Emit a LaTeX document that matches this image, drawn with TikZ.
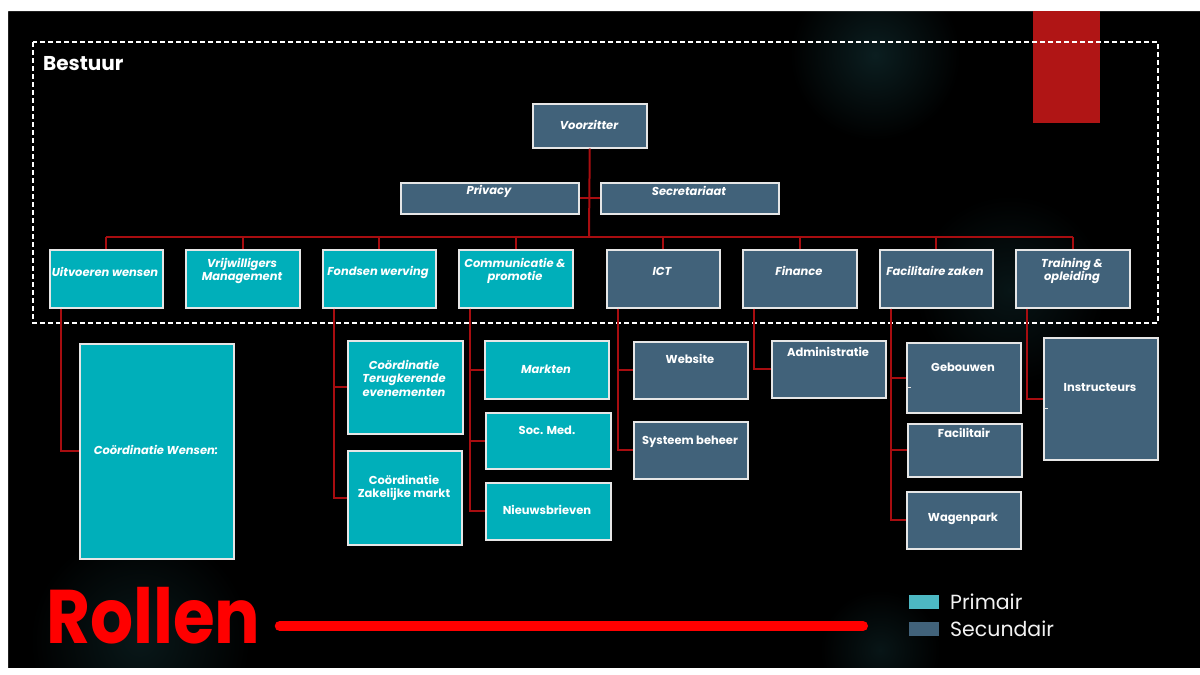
\documentclass[tikz,border=0pt]{standalone}
\usepackage{fontspec}
\setmainfont{Poppins}
\usetikzlibrary{calc}
\definecolor{prim}{HTML}{00AFBA}
\definecolor{sec}{HTML}{41627A}
\definecolor{primleg}{HTML}{4DB8C3}
\definecolor{conn}{HTML}{A80D10}
\definecolor{boxline}{HTML}{E6E6E6}
\definecolor{glow}{HTML}{0B1E20}
\definecolor{redblock}{HTML}{B01515}
\newcommand\rbox[6]{\node[#1, minimum width={(#5-#3)*1pt}, minimum height={(#6-#4)*1pt}] (#2) at (#3,#4) {};}
\begin{document}
\begin{tikzpicture}[x=1pt,y=-1pt,
  box/.style={draw=boxline, line width=1.5pt, inner sep=0pt, anchor=north west},
  pbox/.style={box, fill=prim},
  sbox/.style={box, fill=sec},
  txt/.style={text=white, font=\fontsize{11.5}{13.5}\selectfont\bfseries, align=center, inner sep=0pt},
  itxt/.style={txt, font=\fontsize{11.5}{13.5}\selectfont\bfseries\itshape},
  link/.style={draw=conn, line width=2pt},
  tick/.style={draw=boxline, line width=0.8pt}]
\useasboundingbox (0,0) rectangle (1200,675);
\fill[black] (0,0) rectangle (1200,675);
\shade[inner color=glow, outer color=black] (875,55) circle (85);
\shade[inner color=glow!70!black, outer color=black] (1010,290) circle (95);
\shade[inner color=glow!80!black, outer color=black] (140,640) circle (110);
\shade[inner color=glow!70!black, outer color=black] (880,650) circle (60);
\fill[white, even odd rule] (0,0) rectangle (1200,675) (8,11) rectangle (1200,668);
% red block and dashed frame
\fill[redblock] (1033,11) rectangle (1100,123);
\draw[white, line width=1.3pt, dash pattern=on 5pt off 3pt] (33,42) rectangle (1158,323);
\node[anchor=west, text=white, font=\fontsize{20}{22}\selectfont\bfseries, inner sep=0pt] (bestuur) at (43,64) {Bestuur};

% level 1
\rbox{sbox}{voorz}{532}{103}{646}{147}
\rbox{sbox}{priv}{400}{182}{578}{213}
\rbox{sbox}{secr}{600}{182}{778}{213}
% level 2
\rbox{pbox}{uitv}{49}{249}{162}{307}
\rbox{pbox}{vrij}{185}{249}{299}{307}
\rbox{pbox}{fonds}{322}{249}{435}{307}
\rbox{pbox}{comm}{458}{249}{572}{307}
\rbox{sbox}{ict}{606}{249}{719}{307}
\rbox{sbox}{fin}{742}{249}{856}{307}
\rbox{sbox}{facil}{879}{249}{992}{307}
\rbox{sbox}{train}{1015}{249}{1129}{307}
% level 3
\rbox{pbox}{cwens}{79}{343}{233}{558}
\rbox{pbox}{cterug}{347}{340}{462}{433}
\rbox{pbox}{czak}{347}{450}{461}{544}
\rbox{pbox}{markt}{484}{340}{608}{398}
\rbox{pbox}{socmed}{485}{412}{610}{468}
\rbox{pbox}{nieuws}{485}{482}{610}{539}
\rbox{sbox}{web}{633}{341}{747}{398}
\rbox{sbox}{sys}{633}{421}{747}{478}
\rbox{sbox}{admin}{771}{340}{885}{397}
\rbox{sbox}{geb}{906}{342}{1020}{412}
\rbox{sbox}{facilt}{907}{423}{1021}{476}
\rbox{sbox}{wagen}{906}{491}{1020}{548}
\rbox{sbox}{instr}{1043}{337}{1157}{459}

% connectors level 1/2
\coordinate (bus) at (589,237);
\draw[link] (voorz.south) -- (bus);
\draw[link] (priv.east) -- (secr.west);
\draw[link] (uitv.north |- bus) -- (train.north |- bus);
\foreach \n in {uitv,vrij,fonds,comm,ict,fin,facil,train}
  \draw[link] (\n.north) -- (\n.north |- bus);
% connectors level 3
\draw[link] ($(uitv.south west)+(11.5,0)$) |- (cwens.west);
\draw[link] ($(fonds.south west)+(11.5,0)$) |- (cterug.west);
\draw[link] ($(fonds.south west)+(11.5,0)$) |- (czak.west);
\draw[link] ($(comm.south west)+(11.5,0)$) |- (markt.west);
\draw[link] ($(comm.south west)+(11.5,0)$) |- (socmed.west);
\draw[link] ($(comm.south west)+(11.5,0)$) |- (nieuws.west);
\draw[link] ($(ict.south west)+(11.5,0)$) |- (web.west);
\draw[link] ($(ict.south west)+(11.5,0)$) |- (sys.west);
\draw[link] ($(fin.south west)+(11.5,0)$) |- (admin.west);
\draw[link] ($(facil.south west)+(11.5,0)$) |- (geb.west);
\draw[link] ($(facil.south west)+(11.5,0)$) |- (facilt.west);
\draw[link] ($(facil.south west)+(11.5,0)$) |- (wagen.west);
\draw[link] ($(train.south west)+(11.5,0)$) |- (instr.west);
% small ticks
\draw[tick] ($(geb.west)+(0,10)$) -- ++(5,0);
\draw[tick] ($(instr.west)+(0,10)$) -- ++(5,0);

% texts
\node[itxt] (voorz-t) at (589,125) {Voorzitter};
\node[itxt] (priv-t) at (489,191) {Privacy};
\node[itxt] (secr-t) at (689,191) {Secretariaat};
\node[itxt] (uitv-t) at (105,272) {Uitvoeren wensen};
\node[itxt] (vrij-t) at (242,271) {Vrijwilligers\\Management};
\node[itxt] (fonds-t) at (378,272) {Fondsen werving};
\node[itxt] (comm-t) at (515,271) {Communicatie \&\\promotie};
\node[itxt] (ict-t) at (662,271) {ICT};
\node[itxt] (fin-t) at (799,271) {Finance};
\node[itxt] (facil-t) at (935,271) {Facilitaire zaken};
\node[itxt] (train-t) at (1072,271) {Training \&\\opleiding};
\node[itxt] (cwens-t) at (156,450) {Coördinatie Wensen:};
\node[itxt] (cterug-t) at (404,378) {Coördinatie\\Terugkerende\\evenementen};
\node[txt] (czak-t) at (404,488) {Coördinatie\\Zakelijke markt};
\node[itxt] (markt-t) at (546,369) {Markten};
\node[txt] (socmed-t) at (547,430) {Soc. Med.};
\node[txt] (nieuws-t) at (547,510) {Nieuwsbrieven};
\node[txt] (web-t) at (690,359) {Website};
\node[txt] (sys-t) at (690,442) {Systeem beheer};
\node[txt] (admin-t) at (828,352) {Administratie};
\node[txt] (geb-t) at (963,367) {Gebouwen};
\node[txt] (facilt-t) at (964,433) {Facilitair};
\node[txt] (wagen-t) at (963,519) {Wagenpark};
\node[txt] (instr-t) at (1100,388) {Instructeurs};

% bottom title and legend
\node[anchor=base west, inner sep=0pt, text=red, font=\fontsize{76}{80}\selectfont\bfseries] (rollen) at (46,643) {\scalebox{0.89}[1]{Rollen}};
\coordinate (lineend) at (863,626);
\draw[red, line width=10pt, line cap=round] ([xshift=19pt]rollen.east |- lineend) -- (lineend);
\node[anchor=north west, fill=primleg, minimum width=30pt, minimum height=14pt, inner sep=0pt] (legp) at (909,595) {};
\node[anchor=north west, fill=sec, minimum width=30pt, minimum height=14pt, inner sep=0pt] (legs) at (909,622) {};
\node[anchor=west, text=white!90!gray, font=\fontsize{20.5}{22}\selectfont, inner sep=0pt] (legp-t) at (950,602) {Primair};
\node[anchor=west, text=white!90!gray, font=\fontsize{20.5}{22}\selectfont, inner sep=0pt] (legs-t) at (950,629) {Secundair};
\end{tikzpicture}
\end{document}
